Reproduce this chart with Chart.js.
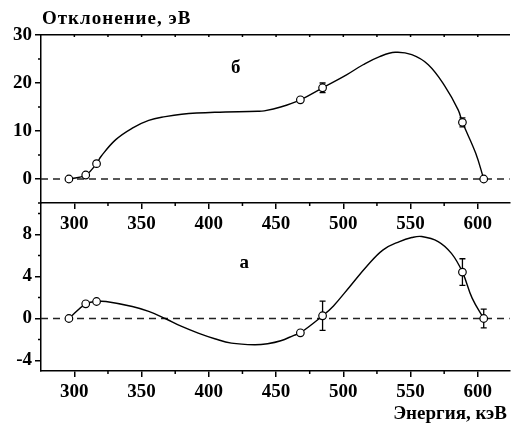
<!DOCTYPE html>
<html>
<head>
<meta charset="utf-8">
<script src="https://cdn.jsdelivr.net/npm/chart.js@4"></script>
<style>
  html, body { margin: 0; padding: 0; background: #fff; overflow: hidden; }
  #wrap { position: relative; width: 515px; height: 432px; }
  canvas { position: absolute; left: 0; }
  #topChart { top: 0; }
  #bottomChart { top: 180px; }
</style>
</head>
<body>
<div id="wrap">
  <canvas id="topChart" width="515" height="240"></canvas>
  <canvas id="bottomChart" width="515" height="252"></canvas>
</div>
<script>
// Measured gamma line energies, keV
const energies = [295.96, 308.46, 316.51, 468.07, 484.58, 588.58, 604.41];

// Panel "б": deviations and errors, eV
const devB = [0, 0.83, 3.2, 16.5, 19.0, 11.8, 0];
const errB = [0, 0, 0, 0, 1.0, 0.95, 0];

// Panel "а": deviations and errors, eV
const devA = [0, 1.4, 1.62, -1.36, 0.26, 4.42, 0];
const errA = [0, 0, 0, 0, 1.4, 1.27, 0.9];

// Smooth curves
const fitBx = [295.96, 308.46, 316.51, 319.8, 330.8, 343.1, 355.3, 367.6, 379.8, 404.4, 436.3, 441.2, 453.4, 468.07, 484.58, 502.4, 514.7, 527, 538.6, 550.9, 563.2, 575.6, 585.4, 588.58, 598.4, 604.41];
const fitBy = [0, 0.83, 3.2, 4.7, 8.2, 10.6, 12.2, 13.0, 13.5, 13.9, 14.1, 14.2, 15.0, 16.5, 19.0, 21.7, 23.8, 25.5, 26.4, 25.9, 23.8, 19.3, 14.4, 11.8, 5.4, 0];
const fitAx = [295.96, 308.46, 316.51, 323.5, 343.1, 355.3, 367.6, 379.8, 392.1, 404.4, 416.8, 433.9, 443.7, 453.5, 463.3, 468.07, 484.58, 492.7, 504.9, 517.3, 529.6, 541.8, 550.9, 558.3, 570.5, 580.4, 588.58, 595.8, 604.41];
const fitAy = [0, 1.4, 1.62, 1.62, 1.14, 0.67, 0, -0.76, -1.39, -1.93, -2.35, -2.5, -2.4, -2.12, -1.6, -1.36, 0.26, 1.2, 3.05, 4.95, 6.54, 7.33, 7.71, 7.81, 7.33, 6.2, 4.42, 1.94, 0];

// Axis ranges and ticks
const xRange = [275.2, 623.8];
const xTicks = [300, 350, 400, 450, 500, 550, 600];
const xMinor = [325, 375, 425, 475, 525, 575];
const xTopMinor = [300, 325, 350, 375, 400, 425, 450, 475, 500, 525, 550, 575, 600];
const yRangeB = [-5, 30];
const yTicksB = [0, 10, 20, 30];
const yMinorB = [-5, 5, 15, 25];
const yRangeA = [-5, 11];
const yTicksA = [-4, 0, 4, 8];
const yMinorA = [-2, 2, 6, 10];

const FONT = '"Liberation Serif", "Times New Roman", serif';
const tickFont = { family: FONT, size: 19, weight: 'bold' };

const toXY = (xs, ys) => xs.map((x, i) => ({ x, y: ys[i] }));
const setTicks = (vals) => (s) => { s.ticks = vals.map(v => ({ value: v })); };

// short minor ticks, drawn from the scales
const minorTicks = (spec) => ({
  id: 'minorTicks',
  afterDraw(chart) {
    const { ctx, chartArea } = chart;
    ctx.save();
    ctx.strokeStyle = '#000';
    ctx.lineWidth = 1.5;
    spec.forEach(({ axis, values, length }) => {
      const scale = chart.scales[axis];
      values.forEach(v => {
        const p = scale.getPixelForValue(v);
        ctx.beginPath();
        if (scale.isHorizontal()) {
          const y = scale.position === 'top' ? chartArea.top : chartArea.bottom;
          ctx.moveTo(p, y);
          ctx.lineTo(p, y + length);
        } else {
          ctx.moveTo(chartArea.left, p);
          ctx.lineTo(chartArea.left - length, p);
        }
        ctx.stroke();
      });
    });
    ctx.restore();
  }
});

// vertical error bars, drawn under the markers
const errorBars = (errs) => ({
  id: 'errorBars',
  beforeDatasetDraw(chart, args) {
    if (args.index !== 2) return;
    const { ctx } = chart;
    const x = chart.scales.x, y = chart.scales.y;
    ctx.save();
    ctx.strokeStyle = '#000';
    ctx.lineWidth = 1.3;
    chart.data.datasets[2].data.forEach((d, i) => {
      if (!errs[i]) return;
      const px = x.getPixelForValue(d.x);
      const top = y.getPixelForValue(d.y + errs[i]);
      const bot = y.getPixelForValue(d.y - errs[i]);
      ctx.beginPath();
      ctx.moveTo(px, top); ctx.lineTo(px, bot);
      ctx.moveTo(px - 3, top); ctx.lineTo(px + 3, top);
      ctx.moveTo(px - 3, bot); ctx.lineTo(px + 3, bot);
      ctx.stroke();
    });
    ctx.restore();
  }
});

// free text labels
const labels = (items) => ({
  id: 'labels',
  afterDraw(chart) {
    const { ctx } = chart;
    ctx.save();
    ctx.fillStyle = '#000';
    ctx.textBaseline = 'alphabetic';
    items.forEach(t => {
      const [px, py] = t.at(chart);
      ctx.font = `bold ${t.size}px ${FONT}`;
      ctx.letterSpacing = (t.spacing || 0) + 'px';
      ctx.textAlign = t.align || 'left';
      ctx.fillText(t.text, px, py);
    });
    ctx.restore();
  }
});

const makeDatasets = (xs, ys, fx, fy) => [
  {
    data: toXY(fx, fy), borderColor: '#000', borderWidth: 1.4,
    pointRadius: 0, tension: 0.4, order: 1
  },
  {
    data: toXY(xRange, [0, 0]), borderColor: '#222', borderWidth: 1.3,
    borderDash: [7, 5], pointRadius: 0, order: 2
  },
  {
    data: toXY(xs, ys), showLine: false, pointStyle: 'circle', pointRadius: 3.8,
    pointBackgroundColor: '#fff', pointBorderColor: '#000', pointBorderWidth: 1.2, order: 0
  }
];

const axisX = (height, withLabels) => ({
  type: 'linear', position: 'bottom', min: xRange[0], max: xRange[1],
  afterFit: s => { s.height = height; },
  afterBuildTicks: setTicks(xTicks),
  ticks: { display: withLabels, font: tickFont, color: '#000', padding: 4, maxRotation: 0, autoSkip: false },
  grid: { drawOnChartArea: false, tickLength: 6, color: '#000', lineWidth: 1.5 },
  border: { color: '#000', width: 1.5 }
});

const axisY = (range, ticks) => ({
  type: 'linear', min: range[0], max: range[1],
  afterFit: s => { s.width = 41; },
  afterBuildTicks: setTicks(ticks),
  ticks: { font: tickFont, color: '#000', padding: 3 },
  grid: { drawOnChartArea: false, tickLength: 6, color: '#000', lineWidth: 1.5 },
  border: { color: '#000', width: 1.5 }
});

const baseOptions = {
  responsive: false, animation: false,
  plugins: { legend: { display: false }, tooltip: { enabled: false } }
};

// upper panel "б"
new Chart(document.getElementById('topChart'), {
  type: 'line',
  data: { datasets: makeDatasets(energies, devB, fitBx, fitBy) },
  options: {
    ...baseOptions,
    layout: { padding: 0 },
    scales: {
      x: axisX(37, true),
      xTop: {
        type: 'linear', position: 'top', min: xRange[0], max: xRange[1],
        afterFit: s => { s.height = 35; },
        ticks: { display: false },
        grid: { drawOnChartArea: false, drawTicks: false },
        border: { color: '#000', width: 1.5 }
      },
      y: axisY(yRangeB, yTicksB)
    }
  },
  plugins: [
    minorTicks([
      { axis: 'x', values: xMinor, length: 3 },
      { axis: 'xTop', values: xTopMinor, length: 2 },
      { axis: 'y', values: yMinorB, length: 3 }
    ]),
    errorBars(errB),
    labels([
      { text: 'Отклонение, эВ', size: 19, spacing: 1, at: c => [c.chartArea.left + 1, 24] },
      { text: 'б', size: 19, at: c => [c.scales.x.getPixelForValue(416.4), c.scales.y.getPixelForValue(22.1)] }
    ])
  ]
});

// lower panel "а"
new Chart(document.getElementById('bottomChart'), {
  type: 'line',
  data: { datasets: makeDatasets(energies, devA, fitAx, fitAy) },
  options: {
    ...baseOptions,
    layout: { padding: { top: 23 } },
    scales: {
      x: axisX(61, true),
      y: axisY(yRangeA, yTicksA)
    }
  },
  plugins: [
    minorTicks([
      { axis: 'x', values: xMinor, length: 3 },
      { axis: 'y', values: yMinorA, length: 3 }
    ]),
    errorBars(errA),
    labels([
      { text: 'а', size: 19, at: c => [c.scales.x.getPixelForValue(422.8), c.scales.y.getPixelForValue(4.83)] },
      { text: 'Энергия, кэВ', size: 19, align: 'right', at: c => [507, 239] }
    ])
  ]
});
</script>
</body>
</html>
